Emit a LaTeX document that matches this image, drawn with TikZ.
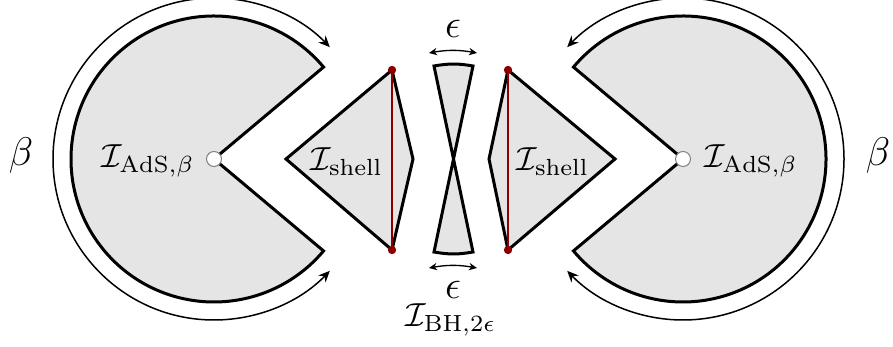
\documentclass[tikz,border=0pt]{standalone}
\usetikzlibrary{arrows.meta}
\begin{document}
\begin{tikzpicture}[x=0.3pt,y=0.3pt]
\tikzset{
  region/.style={fill=gray!20, draw=black, line width=0.9pt, line join=miter},
  period/.style={line width=0.45pt, -{Stealth[length=3.4pt,width=3pt]}},
  widtharrow/.style={line width=0.4pt, {Stealth[length=2.4pt,width=2.2pt]}-{Stealth[length=2.4pt,width=2.2pt]}},
  seam/.style={draw=red!55!black, line width=0.45pt},
  endpoint/.style={circle, fill=red!55!black, inner sep=0pt, minimum size=2.5pt},
  hole/.style={circle, fill=white, draw=gray, line width=0.3pt, inner sep=0pt, minimum size=4.5pt},
}
\useasboundingbox (0,-188) rectangle (893,159);

% left AdS region
\coordinate (L) at (214,0);
\draw[region] (L) -- ++(40:143) arc[start angle=40, end angle=320, radius=143] -- cycle;
\draw[period] ([shift={(180:161)}]L) arc[start angle=180, end angle=44, radius=161];
\draw[period] ([shift={(180:161)}]L) arc[start angle=180, end angle=316, radius=161];
\node[hole] (hL) at (L) {};
\node (aL) at (148,-2) {$\mathcal{I}_{\mathrm{AdS},\beta}$};
\node (bL) at (21,3) {\large$\beta$};

% right AdS region
\coordinate (R) at (683,0);
\draw[region] (R) -- ++(140:143) arc[start angle=140, end angle=-140, radius=143] -- cycle;
\draw[period] ([shift={(0:161)}]R) arc[start angle=0, end angle=136, radius=161];
\draw[period] ([shift={(0:161)}]R) arc[start angle=0, end angle=-136, radius=161];
\node[hole] (hR) at (R) {};
\node (aR) at (751,-2) {$\mathcal{I}_{\mathrm{AdS},\beta}$};
\node (bR) at (878,3) {\large$\beta$};

% left shell
\coordinate (sLl) at (286,0);
\coordinate (sLt) at (392,89);
\coordinate (sLr) at (413,0);
\coordinate (sLb) at (392,-91);
\draw[region] (sLl) -- (sLt) -- (sLr) -- (sLb) -- cycle;
\draw[seam] (sLt) -- (sLb);
\node[endpoint] (dLt) at (sLt) {};
\node[endpoint] (dLb) at (sLb) {};
\node (shL) at (347,-3) {$\mathcal{I}_{\mathrm{shell}}$};

% right shell
\coordinate (sRr) at (615,0);
\coordinate (sRt) at (508,89);
\coordinate (sRl) at (489,0);
\coordinate (sRb) at (508,-91);
\draw[region] (sRr) -- (sRt) -- (sRl) -- (sRb) -- cycle;
\draw[seam] (sRt) -- (sRb);
\node[endpoint] (dRt) at (sRt) {};
\node[endpoint] (dRb) at (sRb) {};
\node (shR) at (553,-3) {$\mathcal{I}_{\mathrm{shell}}$};

% black hole hourglass
\coordinate (htl) at (434,93);
\coordinate (htr) at (473,93);
\coordinate (hbl) at (434,-93);
\coordinate (hbr) at (473,-93);
\draw[region] (htl) to[bend left=10] (htr) -- (hbl) to[bend right=10] (hbr) -- cycle;

% epsilon widths
\coordinate (etl) at (429,106);
\coordinate (etr) at (477,106);
\coordinate (ebl) at (429,-109);
\coordinate (ebr) at (477,-109);
\draw[widtharrow] (etl) to[bend left=10] (etr);
\draw[widtharrow] (ebl) to[bend left=10] (ebr);
\node (eT) at (453,130) {\large$\epsilon$};
\node (eB) at (453,-131) {\large$\epsilon$};
\node (bh) at (451,-161) {$\mathcal{I}_{\mathrm{BH},2\epsilon}$};
\end{tikzpicture}
\end{document}
